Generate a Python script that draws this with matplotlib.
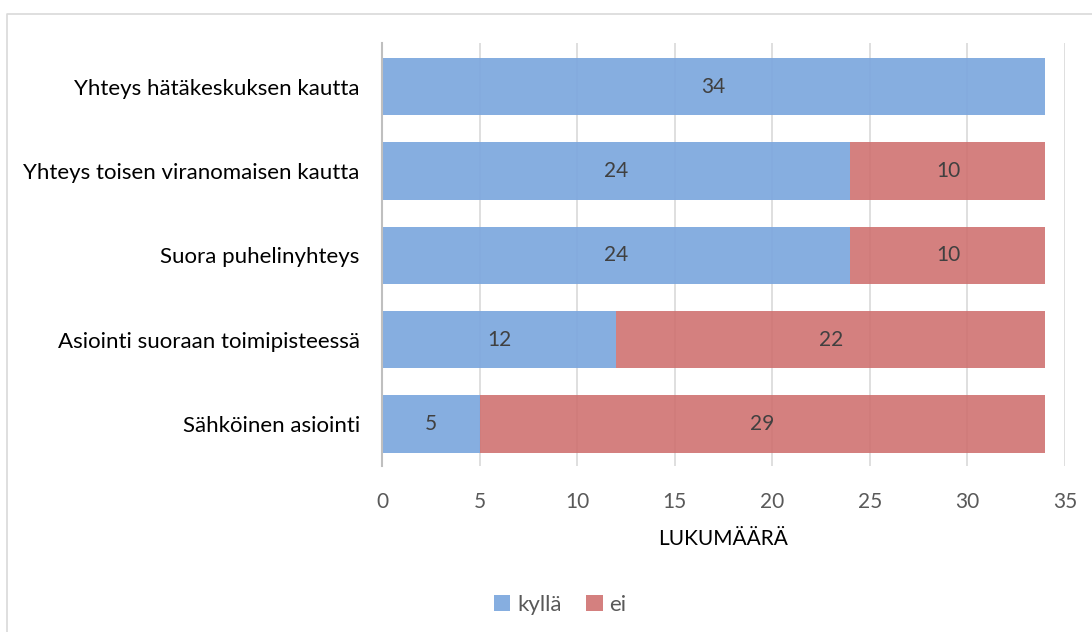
import matplotlib.pyplot as plt
from matplotlib.lines import Line2D

categories = ["Yhteys hätäkeskuksen kautta", "Yhteys toisen viranomaisen kautta",
              "Suora puhelinyhteys", "Asiointi suoraan toimipisteessä", "Sähköinen asiointi"]
kylla = [34, 24, 24, 12, 5]
ei = [0, 10, 10, 22, 29]

plt.rcParams['font.family'] = ['Lato', 'DejaVu Sans']

fig = plt.figure(figsize=(10.92, 6.32), dpi=100)
ax = fig.add_axes([382 / 1092, 1 - 466 / 632, 683 / 1092, 423 / 632])

# light frame: only top and left edges are visible in the reference
fig.lines.append(Line2D([7 / 1092, 7 / 1092, 1], [0, 1 - 14 / 632, 1 - 14 / 632],
                        transform=fig.transFigure, color='#D9D9D9', linewidth=1.2))

y = list(range(len(categories)))
ax.barh(y, kylla, height=0.68, color='#7CA7DE', alpha=0.92, label='kyllä', zorder=2)
ax.barh(y, ei, left=kylla, height=0.68, color='#CF6E6D', alpha=0.88, label='ei', zorder=2)

for i in y:
    ax.text(kylla[i] / 2, i, str(kylla[i]), ha='center', va='center', fontsize=15, color='#404040', zorder=3)
    if ei[i] > 0:
        ax.text(kylla[i] + ei[i] / 2, i, str(ei[i]), ha='center', va='center', fontsize=15, color='#404040', zorder=3)

ax.set_yticks(y)
ax.set_yticklabels(categories, fontsize=16, color='#000000')
ax.set_ylim(4.5, -0.516)
ax.set_xlim(0, 35)
ax.set_xticks(range(0, 36, 5))
ax.tick_params(axis='x', labelsize=15, labelcolor='#595959', length=0, pad=19)
ax.tick_params(axis='y', length=0, pad=16)
ax.grid(axis='x', color='#D9D9D9', linewidth=1.2, zorder=1)
for s in ['top', 'right', 'bottom']:
    ax.spines[s].set_visible(False)
ax.spines['left'].set_color('#BFBFBF')
ax.spines['left'].set_linewidth(1.5)
ax.set_xlabel("LUKUMÄÄRÄ", fontsize=15, color='#000000', labelpad=12)

ax.legend(loc='center', bbox_to_anchor=(560 / 1092, 1 - 605 / 632),
          bbox_transform=fig.transFigure, ncol=2, frameon=False, fontsize=16,
          handlelength=0.75, handleheight=0.75, handletextpad=0.3, columnspacing=1.1,
          labelcolor='#595959')

fig.savefig("out.png", dpi=100)
